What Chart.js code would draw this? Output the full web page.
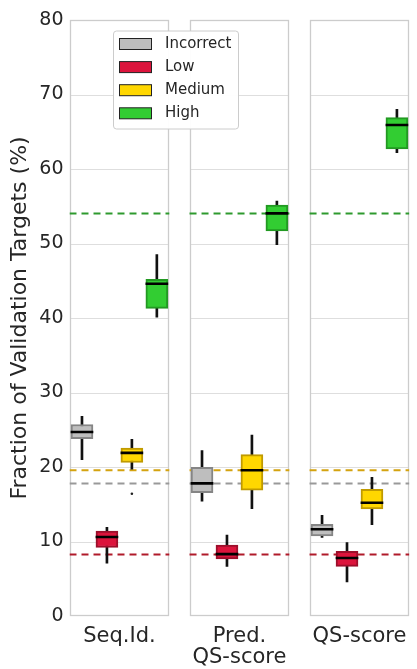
<!DOCTYPE html>
<html><head><meta charset="utf-8">
<script src="https://cdn.jsdelivr.net/npm/chart.js@4.4.1/dist/chart.umd.min.js"></script>
<style>html,body{margin:0;padding:0;background:#fff;overflow:hidden}canvas{display:block}</style>
</head><body>
<canvas id="c" width="417" height="669"></canvas>
<script>
const categories = ['Incorrect', 'Low', 'Medium', 'High'];
const panelLabels = ['Seq.Id.', ['Pred.', 'QS-score'], 'QS-score'];
// per category: [min, q1, median, q3, max]
const seqIdStats = [[21.0, 23.8, 24.7, 25.7, 26.8], [7.1, 9.2, 10.6, 11.4, 11.9], [19.7, 20.6, 21.9, 22.55, 23.7], [40.1, 41.3, 44.6, 45.2, 48.5]];
const predQsStats = [[15.4, 16.56, 17.8, 19.96, 22.2], [6.67, 7.65, 8.3, 9.53, 10.87], [14.4, 16.9, 19.56, 21.66, 24.3], [49.85, 51.68, 54.05, 55.17, 55.7]];
const qsScoreStats = [[10.55, 10.74, 11.64, 12.3, 13.5], [4.56, 6.67, 7.79, 8.68, 9.85], [12.27, 14.36, 15.2, 17.0, 18.6], [62.2, 62.7, 65.9, 66.9, 68.0]];
const seqIdOutliers = [[], [], [16.4], []];
const predQsOutliers = [[], [], [], []];
const qsScoreOutliers = [[], [], [], []];
const referenceLines = [17.77, 8.24, 19.56, 54.04];
const yTicks = [0, 10, 20, 30, 40, 50, 60, 70, 80];

const panels = [seqIdStats, predQsStats, qsScoreStats];
const panelOutliers = [seqIdOutliers, predQsOutliers, qsScoreOutliers];
const fillColors = ['#bebebe', '#dc143c', '#ffd700', '#32cd32'];
const edgeColors = ['#858585', '#9c0f2b', '#c09a00', '#229922'];
const refColors = ['#999999', '#b01a2a', '#d4a310', '#2e9a2e'];
const GAP = 0.81;
const STRIDE = 4 + GAP;
const XMAX = 3 * 4 + 2 * GAP;
const xPos = (p, c) => p * STRIDE + c + 0.5;

const boxData = [], whiskerData = [], medianData = [], boxFill = [], boxEdge = [], outlierData = [];
panels.forEach((stats, p) => stats.forEach((s, c) => {
  const x = xPos(p, c);
  boxData.push({x, y: [s[1], s[3]]});
  whiskerData.push({x, y: [s[0], s[4]]});
  medianData.push({x, y: [s[2] - 0.13, s[2] + 0.13]});
  boxFill.push(fillColors[c]);
  boxEdge.push(edgeColors[c]);
  panelOutliers[p][c].forEach(v => outlierData.push({x, y: v}));
}));

const refDatasets = referenceLines.map((v, c) => {
  const data = [];
  for (let p = 0; p < 3; p++) {
    data.push({x: p * STRIDE, y: v}, {x: p * STRIDE + 4, y: v});
    if (p < 2) data.push({x: p * STRIDE + 4 + GAP / 2, y: null});
  }
  return {type: 'line', label: 'ref ' + categories[c], data, borderColor: refColors[c], borderWidth: 2,
    borderDash: [7, 5], pointRadius: 0, fill: false, spanGaps: false, tension: 0};
});

const panelPlugin = {
  id: 'panels',
  beforeDatasetsDraw(chart) {
    const {ctx, scales: {x, y}} = chart;
    ctx.save();
    for (let p = 0; p < 3; p++) {
      const l = Math.round(x.getPixelForValue(p * STRIDE)) + 0.5;
      const r = Math.round(x.getPixelForValue(p * STRIDE + 4)) - 0.5;
      const t = Math.round(y.getPixelForValue(yTicks[yTicks.length - 1])) + 0.5;
      const b = Math.round(y.getPixelForValue(yTicks[0])) - 0.5;
      ctx.strokeStyle = '#dedede'; ctx.lineWidth = 1;
      yTicks.slice(1, -1).forEach(v => {
        const yy = Math.round(y.getPixelForValue(v)) + 0.5;
        ctx.beginPath(); ctx.moveTo(l, yy); ctx.lineTo(r, yy); ctx.stroke();
      });
      ctx.strokeStyle = '#cccccc'; ctx.lineWidth = 1.3;
      ctx.strokeRect(l, t, r - l, b - t);
    }
    ctx.restore();
  }
};

const legendPlugin = {
  id: 'boxLegend',
  afterDraw(chart) {
    const ctx = chart.ctx, a = chart.chartArea;
    const x0 = a.left + 44, y0 = a.top + 11, w = 125, h = 98;
    ctx.save();
    ctx.fillStyle = 'rgba(255,255,255,0.96)'; ctx.strokeStyle = '#cccccc'; ctx.lineWidth = 1;
    ctx.beginPath(); ctx.roundRect(x0, y0, w, h, 3); ctx.fill(); ctx.stroke();
    ctx.font = '15px "DejaVu Sans"'; ctx.textBaseline = 'middle'; ctx.textAlign = 'left';
    categories.forEach((name, i) => {
      const cy = y0 + 13 + i * 23.1;
      ctx.fillStyle = fillColors[i]; ctx.fillRect(x0 + 6, cy - 5.5, 32, 11);
      ctx.strokeStyle = '#222'; ctx.lineWidth = 1; ctx.strokeRect(x0 + 6, cy - 5.5, 32, 11);
      ctx.fillStyle = '#262626'; ctx.fillText(name, x0 + 51.5, cy);
    });
    ctx.restore();
  }
};

new Chart(document.getElementById('c'), {
  type: 'bar',
  data: {datasets: [
    {type: 'scatter', label: 'outliers', data: outlierData, pointRadius: 1.3, pointBackgroundColor: '#222', pointBorderWidth: 0},
    {label: 'median', data: medianData, backgroundColor: '#000', barThickness: 22, grouped: false},
    {label: 'box', data: boxData, backgroundColor: boxFill, borderColor: boxEdge, borderWidth: 2, borderSkipped: false, barThickness: 22, grouped: false},
    {label: 'whisker', data: whiskerData, backgroundColor: '#111', barThickness: 2, grouped: false},
    ...refDatasets
  ]},
  options: {
    responsive: false, animation: false, devicePixelRatio: 1,
    layout: {padding: {top: 20, right: 2, left: 0, bottom: 0}},
    plugins: {legend: {display: false}, tooltip: {enabled: false}},
    scales: {
      x: {type: 'linear', min: 0, max: XMAX, offset: false, bounds: 'data',
        grid: {display: false, drawTicks: false}, border: {display: false},
        afterBuildTicks: s => { s.ticks = [0, 1, 2].map(p => ({value: p * STRIDE + 2})); },
        ticks: {autoSkip: false, maxRotation: 0, padding: 10, color: '#262626',
          font: {family: '"DejaVu Sans"', size: 21, lineHeight: 1.0}, callback: (v, i) => panelLabels[i]},
        afterFit: s => { s.height = 53; }},
      y: {min: 0, max: 80, grid: {display: false, drawTicks: false}, border: {display: false},
        afterBuildTicks: s => { s.ticks = yTicks.map(v => ({value: v})); },
        ticks: {padding: 6, color: '#262626', font: {family: '"DejaVu Sans"', size: 19}},
        title: {display: true, text: 'Fraction of Validation Targets (%)', color: '#262626',
          font: {family: '"DejaVu Sans"', size: 22}, padding: {top: 7, bottom: 0}},
        afterFit: s => { s.width = 69.5; }}
    }
  },
  plugins: [panelPlugin, legendPlugin]
});
</script></body></html>
